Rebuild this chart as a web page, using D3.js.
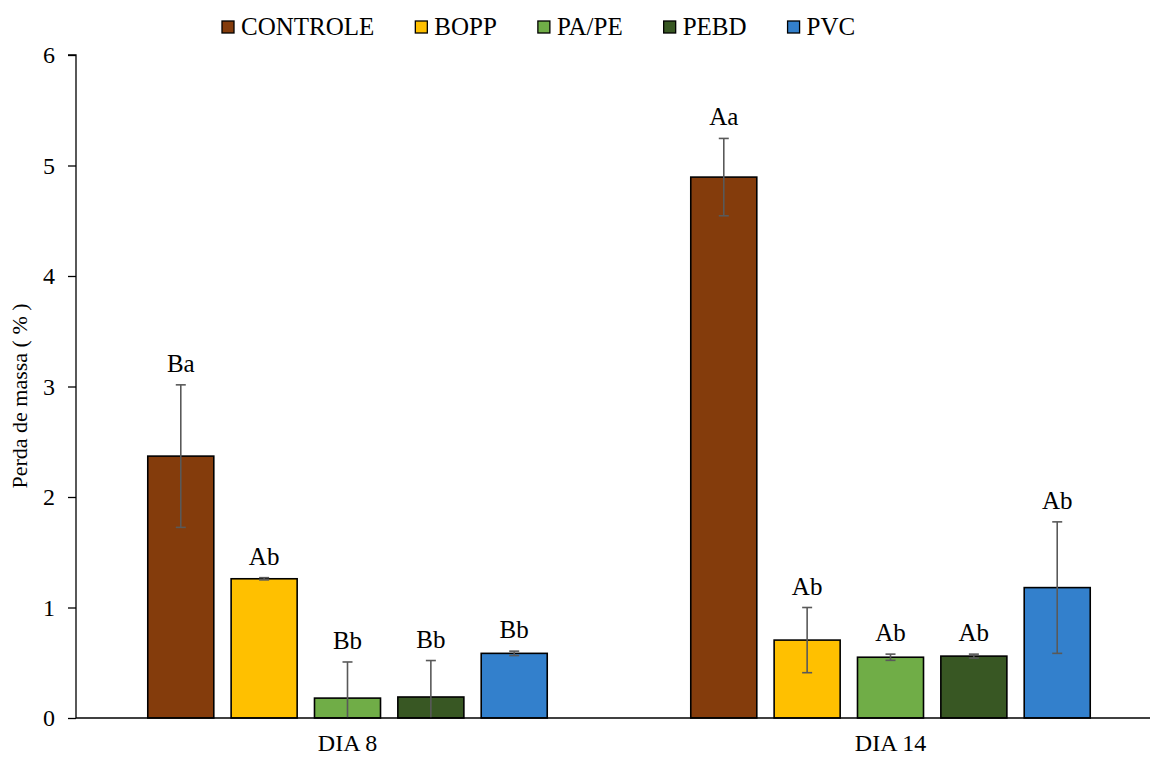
<!DOCTYPE html>
<html>
<head>
<meta charset="utf-8">
<script src="https://cdn.jsdelivr.net/npm/d3@7"></script>
<style>
  html, body { margin: 0; padding: 0; background: #fff; }
  svg { display: block; }
  text { font-family: "Liberation Serif", "Times New Roman", serif; fill: #000; }
</style>
</head>
<body>
<svg id="chart" width="1150" height="758"></svg>
<script>
const categories = ["DIA 8", "DIA 14"];
const series = ["CONTROLE", "BOPP", "PA/PE", "PEBD", "PVC"];
const colors = ["#843C0C", "#FFC000", "#70AD47", "#385723", "#3380CC"];
const valuesDia8 = [2.37, 1.26, 0.18, 0.19, 0.585];
const errorsDia8 = [0.645, 0.01, 0.327, 0.33, 0.02];
const valuesDia14 = [4.895, 0.705, 0.55, 0.56, 1.18];
const errorsDia14 = [0.35, 0.295, 0.028, 0.018, 0.595];
const labelsDia8 = ["Ba", "Ab", "Bb", "Bb", "Bb"];
const labelsDia14 = ["Aa", "Ab", "Ab", "Ab", "Ab"];
const yTicks = [0, 1, 2, 3, 4, 5, 6];

const values = [valuesDia8, valuesDia14];
const errors = [errorsDia8, errorsDia14];
const labels = [labelsDia8, labelsDia14];

const data = [];
categories.forEach((c, i) => {
  series.forEach((s, j) => {
    data.push({cat: c, ser: s, v: values[i][j], e: errors[i][j], lab: labels[i][j], color: colors[j]});
  });
});

const svg = d3.select("#chart");
const left = 76, bandW = 543, y0 = 718, yTop = 55;

const x0 = d3.scaleBand().domain(categories).range([left, left + 2 * bandW]).paddingInner(0).paddingOuter(0);
const x1 = d3.scaleBand().domain(series).range([0, bandW]).paddingInner(0.208).paddingOuter(0.861);
const y = d3.scaleLinear().domain([0, 6]).range([y0, yTop]);

// Y axis
const yAxis = svg.append("g").attr("transform", `translate(${left},0)`)
  .call(d3.axisLeft(y).tickValues(yTicks).tickSize(8).tickPadding(13).tickFormat(d3.format("d")));
yAxis.select(".domain").attr("stroke", "#000").attr("stroke-width", 1.3).attr("d", `M-8,${yTop}H0V${y0}`);
yAxis.selectAll(".tick line").attr("stroke", "#000").attr("stroke-width", 1.3);
yAxis.selectAll(".tick text").style("font-size", "24px").style("font-family", '"Liberation Serif", serif').attr("fill", "#000");

// Y title
svg.append("text")
  .attr("transform", `translate(27,396) rotate(-90)`)
  .attr("text-anchor", "middle")
  .style("font-size", "22px")
  .text("Perda de massa ( % )");

// Bars
const bars = svg.append("g");
bars.selectAll("rect").data(data).join("rect")
  .attr("x", d => x0(d.cat) + x1(d.ser))
  .attr("y", d => y(d.v))
  .attr("width", x1.bandwidth())
  .attr("height", d => y(0) - y(d.v))
  .attr("fill", d => d.color)
  .attr("stroke", "#000")
  .attr("stroke-width", 1.6);

// Error bars
const eg = svg.append("g").attr("stroke", "#595959").attr("stroke-width", 1.6);
data.forEach(d => {
  const cx = x0(d.cat) + x1(d.ser) + x1.bandwidth() / 2;
  const hi = y(d.v + d.e);
  const loVal = d.v - d.e;
  const lo = y(Math.max(0, loVal));
  eg.append("line").attr("x1", cx).attr("x2", cx).attr("y1", hi).attr("y2", lo);
  eg.append("line").attr("x1", cx - 5).attr("x2", cx + 5).attr("y1", hi).attr("y2", hi);
  if (loVal > 0) eg.append("line").attr("x1", cx - 5).attr("x2", cx + 5).attr("y1", lo).attr("y2", lo);
});

// Data labels
svg.append("g").selectAll("text").data(data).join("text")
  .attr("x", d => x0(d.cat) + x1(d.ser) + x1.bandwidth() / 2)
  .attr("y", d => y(d.v + d.e) - 13)
  .attr("text-anchor", "middle")
  .style("font-size", "25px")
  .text(d => d.lab);

// X axis line
svg.append("line").attr("x1", left).attr("x2", 1150).attr("y1", y0).attr("y2", y0)
  .attr("stroke", "#000").attr("stroke-width", 1.6);

// X category labels
svg.append("g").selectAll("text").data(categories).join("text")
  .attr("x", d => x0(d) + x0.bandwidth() / 2)
  .attr("y", 751)
  .attr("text-anchor", "middle")
  .style("font-size", "24px")
  .text(d => d);

// Legend
const lg = svg.append("g");
let lx = 222;
series.forEach((s, j) => {
  lg.append("rect").attr("x", lx).attr("y", 21).attr("width", 12).attr("height", 12)
    .attr("fill", colors[j]).attr("stroke", "#000").attr("stroke-width", 1.3);
  const t = lg.append("text").attr("x", lx + 19).attr("y", 35).style("font-size", "25px").text(s);
  lx += 19 + t.node().getComputedTextLength() + 41;
});
</script>
</body>
</html>
